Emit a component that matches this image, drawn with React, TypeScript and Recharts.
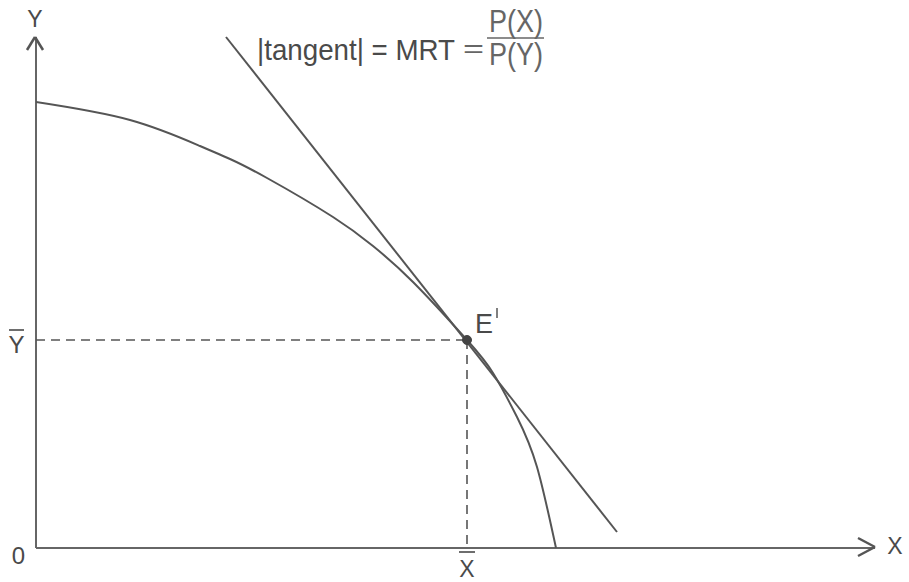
import React from 'react';
import { LineChart, Line, XAxis, YAxis, ReferenceLine, ReferenceDot, Customized } from 'recharts';

// production possibility frontier (x right, y up)
const curveX = [0, 94, 164, 194, 231, 297, 337, 377, 431, 457, 481, 501, 520];
const curveY = [446, 428, 402, 389, 370, 331, 302, 266, 208, 175, 131, 81, 0];

// tangent line end points
const tangentX = [190, 581];
const tangentY = [511, 16];

// equilibrium point E'
const pointE = { x: 431, y: 208 };

const xMax = 840;
const yMax = 512;

const curve = curveX.map((x, i) => ({ x, y: curveY[i] }));
const tangent = tangentX.map((x, i) => ({ x, y: tangentY[i] }));

const ink = '#555';
const font = '"Liberation Sans", Arial, sans-serif';

const Labels = () => (
  <g fill="#4a4a4a" fontFamily={font}>
    <text x={35} y={27} fontSize={23} textAnchor="middle">Y</text>
    <text x={895} y={554} fontSize={23} textAnchor="middle">X</text>
    <text x={18.5} y={564} fontSize={24} textAnchor="middle">0</text>
    <text x={16.5} y={353} fontSize={24} textAnchor="middle">Y</text>
    <line x1={9} x2={24} y1={330} y2={330} stroke="#4a4a4a" strokeWidth={1.6} />
    <text x={467} y={577} fontSize={23} textAnchor="middle">X</text>
    <line x1={459} x2={475} y1={552} y2={552} stroke="#4a4a4a" strokeWidth={1.6} />
    <text x={475} y={333} fontSize={27}>E</text>
    <line x1={497} x2={497} y1={308} y2={318} stroke="#4a4a4a" strokeWidth={1.4} />
    <text x={257} y={60} fontSize={29} textLength={198} lengthAdjust="spacingAndGlyphs">|tangent| = MRT</text>
    <text x={463} y={57} fontSize={26} textLength={21} lengthAdjust="spacingAndGlyphs" fill="#666">=</text>
    <text x={489} y={32} fontSize={31} textLength={54} lengthAdjust="spacingAndGlyphs" fill="#666">P(X)</text>
    <line x1={487} x2={544} y1={38} y2={38} stroke="#666" strokeWidth={1.6} />
    <text x={489} y={65} fontSize={31} textLength={54} lengthAdjust="spacingAndGlyphs" fill="#666">P(Y)</text>
  </g>
);

export default function App() {
  return (
    <div style={{ position: 'absolute', left: 0, top: 0, background: '#fff' }}>
      <LineChart width={909} height={582} margin={{ top: 36, right: 33, bottom: 34, left: 36 }}>
        <XAxis type="number" dataKey="x" domain={[0, xMax]} hide allowDataOverflow />
        <YAxis type="number" dataKey="y" domain={[0, yMax]} hide allowDataOverflow />

        {/* axes with arrow heads */}
        <ReferenceLine segment={[{ x: 0, y: 0 }, { x: 0, y: yMax - 1 }]} stroke="#666" strokeWidth={2} ifOverflow="visible" />
        <ReferenceLine segment={[{ x: 0, y: 0 }, { x: xMax - 1, y: 0 }]} stroke="#666" strokeWidth={2} ifOverflow="visible" />
        <ReferenceLine segment={[{ x: -9, y: yMax - 14 }, { x: -1, y: yMax - 1 }]} stroke="#555" strokeWidth={2.5} ifOverflow="visible" />
        <ReferenceLine segment={[{ x: -1, y: yMax - 1 }, { x: 7, y: yMax - 14 }]} stroke="#555" strokeWidth={2.5} ifOverflow="visible" />
        <ReferenceLine segment={[{ x: xMax - 18, y: 10 }, { x: xMax - 1, y: 1 }]} stroke="#555" strokeWidth={2.5} ifOverflow="visible" />
        <ReferenceLine segment={[{ x: xMax - 1, y: 1 }, { x: xMax - 18, y: -8 }]} stroke="#555" strokeWidth={2.5} ifOverflow="visible" />

        {/* dashed guides to E' */}
        <ReferenceLine segment={[{ x: 0, y: pointE.y }, { x: pointE.x, y: pointE.y }]} stroke={ink} strokeWidth={1.6} strokeDasharray="9 6" />
        <ReferenceLine segment={[{ x: pointE.x, y: pointE.y }, { x: pointE.x, y: 0 }]} stroke={ink} strokeWidth={1.6} strokeDasharray="9 6" />

        <Line data={curve} dataKey="y" type="natural" stroke={ink} strokeWidth={2} dot={false} isAnimationActive={false} />
        <Line data={tangent} dataKey="y" type="linear" stroke={ink} strokeWidth={2} dot={false} isAnimationActive={false} />

        <ReferenceDot x={pointE.x} y={pointE.y} r={4.5} fill="#444" stroke="#444" />
        <Customized component={Labels} />
      </LineChart>
    </div>
  );
}
